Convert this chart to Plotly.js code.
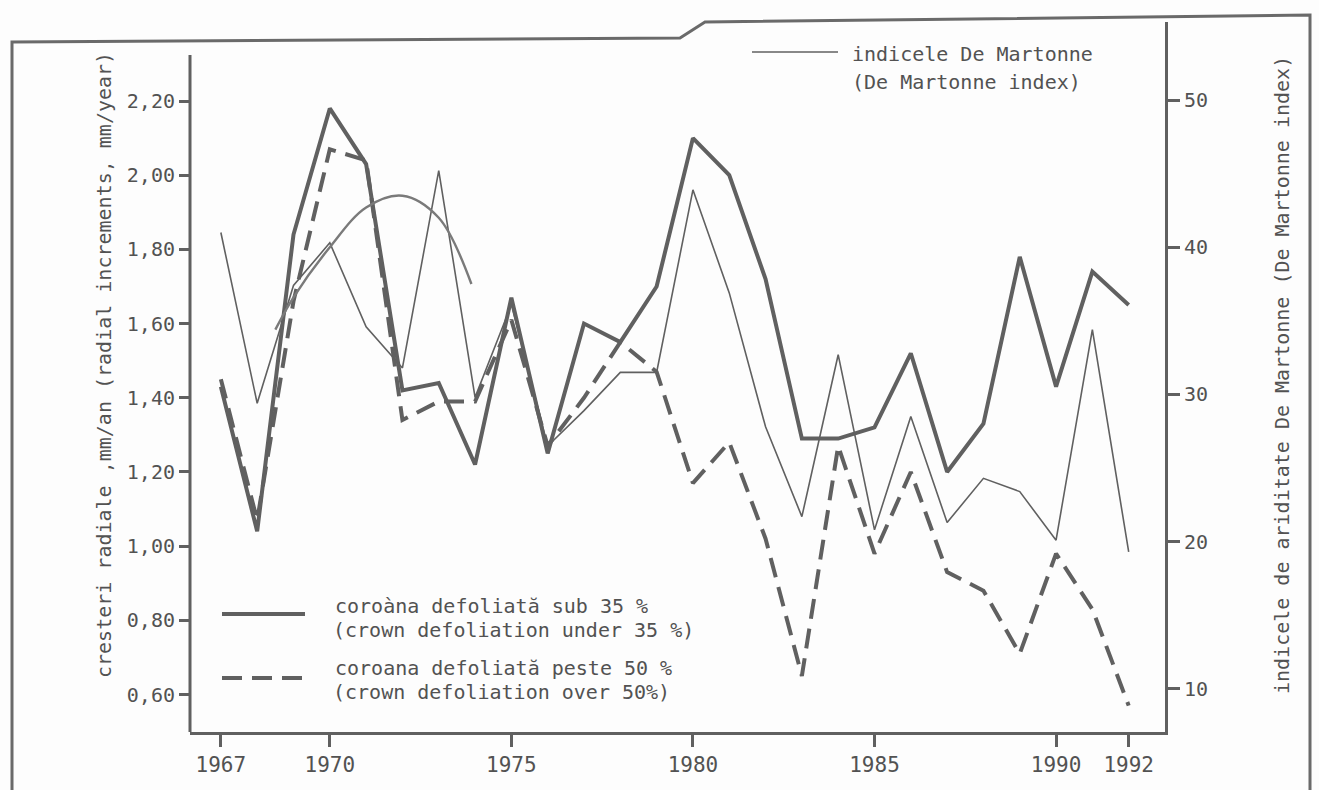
<!DOCTYPE html>
<html>
<head>
<meta charset="utf-8">
<script src="https://cdn.plot.ly/plotly-3.0.1.min.js"></script>
<style>
  html, body { margin: 0; padding: 0; background: #fdfdfd; }
  #chart { width: 1319px; height: 790px; }
</style>
</head>
<body>
<div id="chart"></div>
<script>
// Years on the x axis
const years = [1967, 1968, 1969, 1970, 1971, 1972, 1973, 1974, 1975, 1976, 1977, 1978, 1979,
               1980, 1981, 1982, 1983, 1984, 1985, 1986, 1987, 1988, 1989, 1990, 1991, 1992];

// Radial increments (mm/year) - crown defoliation under 35 %
const under35 = [1.43, 1.04, 1.84, 2.18, 2.03, 1.42, 1.44, 1.22, 1.67, 1.25, 1.60, 1.55, 1.70,
                 2.10, 2.00, 1.72, 1.29, 1.29, 1.32, 1.52, 1.20, 1.33, 1.78, 1.43, 1.74, 1.65];

// Radial increments (mm/year) - crown defoliation over 50 %
const over50 = [1.45, 1.07, 1.66, 2.07, 2.04, 1.34, 1.39, 1.39, 1.61, 1.27, 1.40, 1.55, 1.47,
                1.17, 1.28, 1.02, 0.65, 1.27, 0.98, 1.20, 0.93, 0.88, 0.71, 0.98, 0.83, 0.57];

// De Martonne aridity index
const martonne = [41.0, 29.4, 37.4, 40.3, 34.6, 31.8, 45.2, 29.8, 36.1, 26.5, 28.9, 31.5, 31.5,
                  43.9, 36.9, 27.8, 21.7, 32.7, 20.8, 28.5, 21.3, 24.3, 23.4, 20.1, 34.4, 19.3];

// Hand-drawn trend curve over the De Martonne index (early years)
const trendYears = [1968.5, 1969, 1970, 1971, 1972, 1973, 1973.9];
const trendVals = [34.4, 36.6, 40.0, 42.7, 43.5, 42.0, 37.5];

// Tick labels
const xTicks = [1967, 1970, 1975, 1980, 1985, 1990, 1992];
const leftTicks = [0.6, 0.8, 1.0, 1.2, 1.4, 1.6, 1.8, 2.0, 2.2];
const leftTickText = ['0,60', '0,80', '1,00', '1,20', '1,40', '1,60', '1,80', '2,00', '2,20'];
const rightTicks = [10, 20, 30, 40, 50];

const INK = '#606060';
const TEXT = '#525252';
const FONT = 'DejaVu Sans Mono, monospace';

// Plot area in pixels
const W = 1319, H = 790;
const M = { l: 190, r: 154, t: 22, b: 58 };
const px = v => (v - M.l) / (W - M.l - M.r);
const py = v => (H - M.b - v) / (H - M.t - M.b);

const traces = [
    {
        x: years, y: martonne, yaxis: 'y2', type: 'scatter', mode: 'lines',
        line: { color: INK, width: 1.6 }, hoverinfo: 'skip'
    },
    {
        x: trendYears, y: trendVals, yaxis: 'y2', type: 'scatter', mode: 'lines',
        line: { color: '#7a7a7a', width: 2.4, shape: 'spline', smoothing: 1 }, hoverinfo: 'skip'
    },
    {
        x: years, y: under35, type: 'scatter', mode: 'lines',
        line: { color: INK, width: 4 }, hoverinfo: 'skip'
    },
    {
        x: years, y: over50, type: 'scatter', mode: 'lines',
        line: { color: INK, width: 4, dash: '20px,10px' }, hoverinfo: 'skip'
    }
];

const ann = (text, x, y, opts) => Object.assign({
    text: text, xref: 'paper', yref: 'paper', x: px(x), y: py(y),
    xanchor: 'left', yanchor: 'middle', showarrow: false,
    font: { family: FONT, size: 20, color: TEXT }
}, opts || {});

const layout = {
    width: W, height: H,
    margin: M,
    paper_bgcolor: '#fdfdfd',
    plot_bgcolor: '#fdfdfd',
    showlegend: false,
    font: { family: FONT, size: 20, color: TEXT },
    xaxis: {
        range: [1966.15, 1993.0],
        tickvals: xTicks,
        ticks: 'outside', ticklen: 12, tickwidth: 3, tickcolor: INK,
        showline: true, linecolor: INK, linewidth: 3,
        showgrid: false, zeroline: false,
        tickfont: { family: FONT, size: 21, color: TEXT }
    },
    yaxis: {
        range: [0.499, 2.413],
        tickvals: leftTicks, ticktext: leftTickText,
        ticks: 'outside', ticklen: 10, tickwidth: 3, tickcolor: INK,
        showline: false, showgrid: false, zeroline: false,
        tickfont: { family: FONT, size: 20, color: TEXT }
    },
    yaxis2: {
        range: [7.07, 55.3],
        overlaying: 'y', side: 'right',
        tickvals: rightTicks,
        ticks: 'outside', ticklen: 12, tickwidth: 3, tickcolor: INK,
        showline: true, linecolor: INK, linewidth: 3,
        showgrid: false, zeroline: false,
        tickfont: { family: FONT, size: 20, color: TEXT }
    },
    shapes: [
        // left axis line (starts below the top of the frame)
        { type: 'line', xref: 'paper', yref: 'paper', x0: 0, x1: 0, y0: 0, y1: py(55),
          line: { color: INK, width: 3 } },
        // outer frame of the scanned figure
        { type: 'path', xref: 'paper', yref: 'paper',
          path: `M ${px(12)} ${py(790)} L ${px(12)} ${py(42)} L ${px(680)} ${py(38)} L ${px(705)} ${py(22)} L ${px(1310)} ${py(15)} L ${px(1310)} ${py(790)}`,
          line: { color: '#6a6a6a', width: 3 } },
        // legend samples
        { type: 'line', xref: 'paper', yref: 'paper', x0: px(752), x1: px(838), y0: py(52), y1: py(52),
          line: { color: INK, width: 1.6 } },
        { type: 'line', xref: 'paper', yref: 'paper', x0: px(222), x1: px(305), y0: py(614), y1: py(614),
          line: { color: INK, width: 4 } },
        { type: 'line', xref: 'paper', yref: 'paper', x0: px(222), x1: px(305), y0: py(678), y1: py(678),
          line: { color: INK, width: 4, dash: '20px,10px' } }
    ],
    annotations: [
        ann('indicele De Martonne', 850, 54),
        ann('(De Martonne index)', 850, 82),
        ann('coroàna defoliată sub 35 %', 333, 606),
        ann('(crown defoliation under 35 %)', 331, 630),
        ann('coroana defoliată peste 50 %', 333, 668),
        ann('(crown defoliation over 50%)', 331, 692),
        ann('cresteri radiale ,mm/an (radial increments, mm/year)', 104, 365,
            { xanchor: 'center', textangle: -90, font: { family: FONT, size: 20, color: TEXT } }),
        ann('indicele de ariditate De Martonne (De Martonne index)', 1282, 375,
            { xanchor: 'center', textangle: -90, font: { family: FONT, size: 20, color: TEXT } })
    ]
};

Plotly.newPlot('chart', traces, layout, { displayModeBar: false, staticPlot: true });
</script>
</body>
</html>
